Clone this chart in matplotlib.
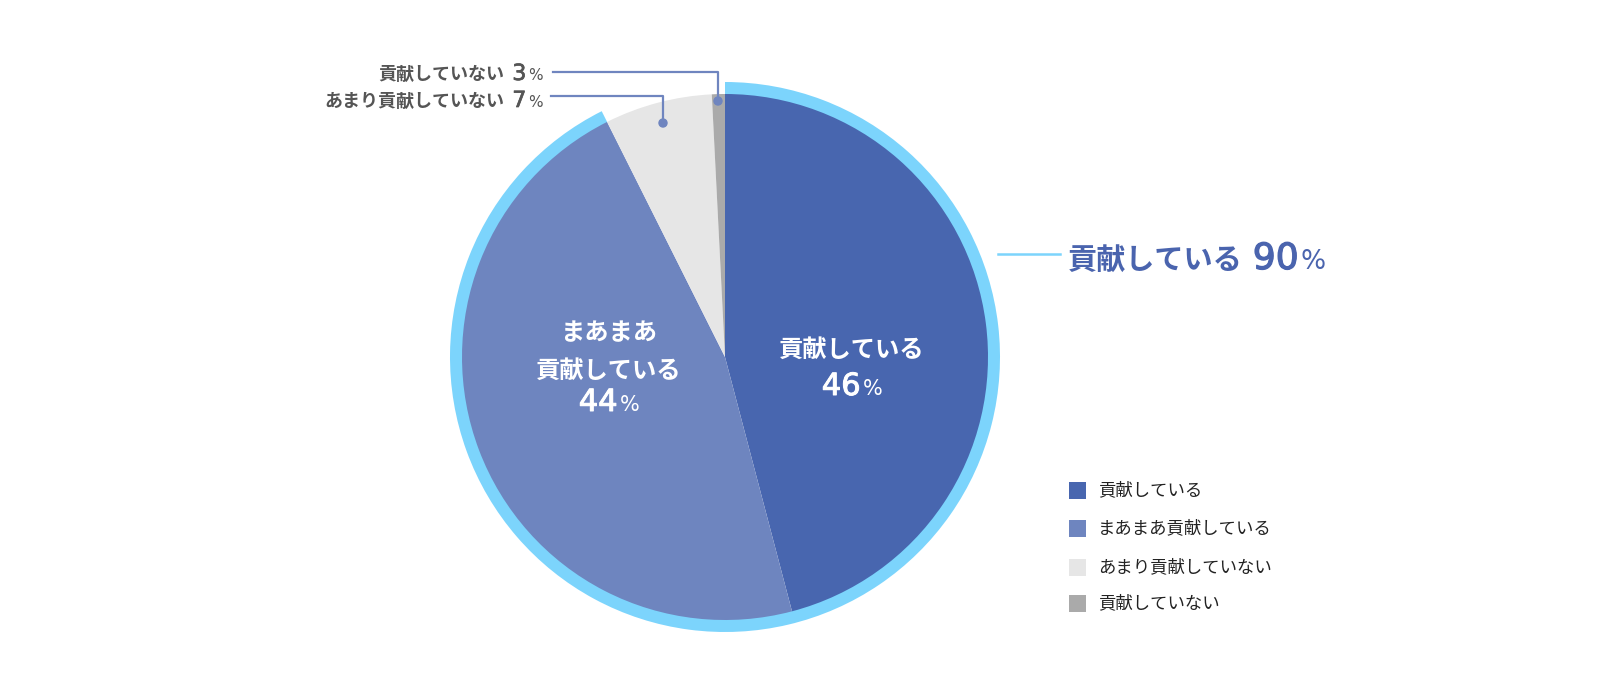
import matplotlib
matplotlib.use("Agg")
import matplotlib.pyplot as plt
import matplotlib.patheffects as pe
from matplotlib.patches import Rectangle, Circle

plt.rcParams['font.family'] = ['Noto Sans CJK JP', 'DejaVu Sans']

# Data
categories = ["貢献している", "まあまあ貢献している", "あまり貢献していない", "貢献していない"]
percent_labels = [46, 44, 7, 3]
# slice shares as drawn in the picture
slice_shares = [45.9, 46.7, 6.6, 0.8]
colors = ["#4866af", "#6e85bf", "#e6e6e6", "#aaaaaa"]
total_label = "貢献している"
total_value = 90

ring_color = "#7cd4fc"
line_color = "#6f85bf"
dark_text = "#555555"
title_blue = "#4a64ae"

CJK = ["Noto Sans CJK JP", "DejaVu Sans"]
NUM = ["DejaVu Sans"]

W, H = 1600, 700
fig = plt.figure(figsize=(16, 7), dpi=100)
ax = fig.add_axes([0, 0, 1, 1])
ax.axis("off")

cx, cy = 725, H - 357
r_in = 263
r_out = 275

# outer ring over the "contributing" part
top_share = slice_shares[0] + slice_shares[1]
ax.pie([top_share, 100 - top_share], colors=[ring_color, "none"],
       radius=r_out, center=(cx, cy), startangle=90, counterclock=False,
       wedgeprops=dict(width=r_out - r_in + 1, linewidth=0))
ax.pie(slice_shares, colors=colors, radius=r_in, center=(cx, cy),
       startangle=90, counterclock=False, wedgeprops=dict(linewidth=0))
ax.set_xlim(0, W)
ax.set_ylim(0, H)
ax.set_aspect("equal")

renderer = fig.canvas.get_renderer()


def draw_runs(x, y, runs, ha="left", color="black"):
    # runs: (text, size, family, stroke width, gap before in px)
    texts = []
    gaps = []
    for s, size, fam, sw, gap in runs:
        t = ax.text(0, H - y, s, fontsize=size, color=color, family=fam,
                    fontweight="bold" if fam is CJK else "normal",
                    va="baseline", ha="left")
        if sw:
            t.set_path_effects([pe.withStroke(linewidth=sw, foreground=color)])
        texts.append(t)
        gaps.append(gap)
    widths = [t.get_window_extent(renderer).width for t in texts]
    total = sum(widths) + sum(gaps)
    if ha == "left":
        x0 = x
    elif ha == "right":
        x0 = x - total
    else:
        x0 = x - total / 2
    for t, w, g in zip(texts, widths, gaps):
        x0 += g
        t.set_x(x0)
        x0 += w


def pct(value, size, psize, gap=0, sw=0.7):
    return [(str(value), size, NUM, sw, gap), ("%", psize, NUM, 0, 2)]


# inner labels
draw_runs(852, 357, [(categories[0], 17.5, CJK, 0, 0)],
          ha="center", color="white")
draw_runs(852, 395, pct(percent_labels[0], 22, 15), ha="center", color="white")
draw_runs(609, 340, [("まあまあ", 17.5, CJK, 0, 0)],
          ha="center", color="white")
draw_runs(609, 378, [(total_label, 17.5, CJK, 0, 0)],
          ha="center", color="white")
draw_runs(609, 411, pct(percent_labels[1], 22, 15), ha="center", color="white")

# small slice labels
draw_runs(543, 80, [(categories[3], 13, CJK, 0, 0)]
          + pct(percent_labels[3], 16, 11, gap=8, sw=0.5),
          ha="right", color=dark_text)
draw_runs(543, 107, [(categories[2], 13, CJK, 0, 0)]
          + pct(percent_labels[2], 16, 11, gap=8, sw=0.5),
          ha="right", color=dark_text)

ax.plot([553, 718, 718], [H - 72, H - 72, H - 101], color=line_color, lw=1.6)
ax.plot([551, 663, 663], [H - 96, H - 96, H - 123], color=line_color, lw=1.6)
ax.add_patch(Circle((718, H - 101), 4, color=line_color, zorder=5))
ax.add_patch(Circle((663, H - 123), 4, color=line_color, zorder=5))

# total label
ax.plot([r_out + cx - 2, 1060], [H - 254, H - 254], color=ring_color, lw=1.8)
draw_runs(1068, 269, [(total_label, 21, CJK, 0, 0)]
          + pct(total_value, 26, 19, gap=10, sw=0.9),
          ha="left", color=title_blue)

# legend
legend_y = [490, 528, 567, 603]
for name, c, ly in zip(categories, colors, legend_y):
    ax.add_patch(Rectangle((1069, H - ly - 8.5), 17, 17, color=c, lw=0))
    ax.text(1098, H - ly, name, fontsize=12.5, color="#222222",
            va="center", ha="left")

fig.savefig("out.png", dpi=100, facecolor="white")
